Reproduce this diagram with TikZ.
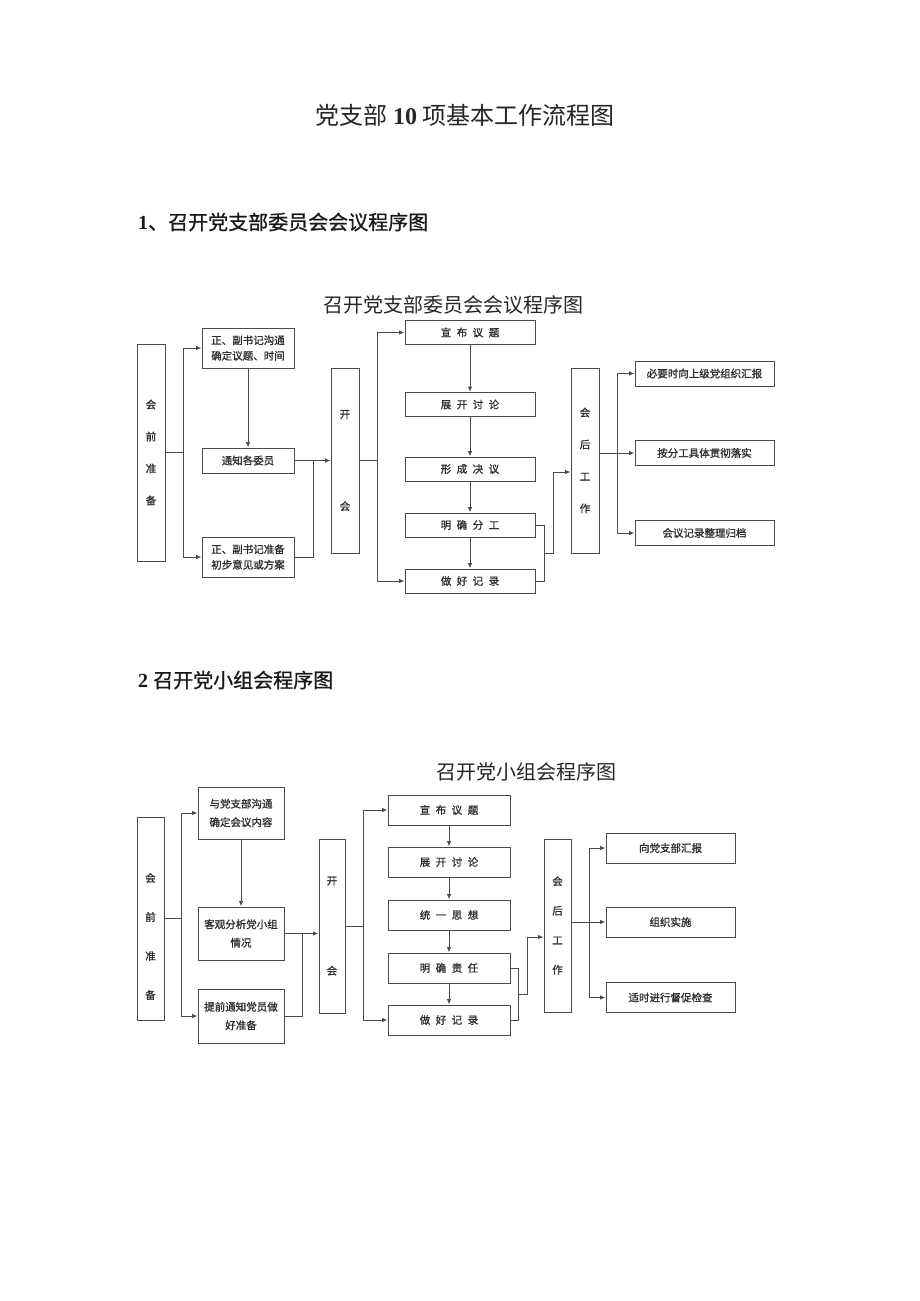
\documentclass[tikz,border=0pt]{standalone}
\usepackage{fontspec}
\setmainfont{Liberation Serif}
\newfontfamily\cjk{Noto Sans CJK SC}
\newfontfamily\cjkbox[FakeBold=1.2]{Noto Sans CJK SC}
\newfontfamily\cjkhead[FakeBold=0.8]{Noto Sans CJK SC}
\usetikzlibrary{arrows.meta}

\definecolor{boxline}{HTML}{4A4A4A}
\definecolor{boxtext}{HTML}{2E2E2E}
\newcommand{\chgap}{\hspace{5.5pt}}

\tikzset{
  box/.style={draw=boxline, line width=1pt, inner sep=0pt, text=boxtext,
    font=\cjkbox\fontsize{10.5}{12.5}\selectfont, align=center},
  link/.style={draw=boxline, line width=1pt},
  >={Latex[length=5.5pt,width=4.5pt]},
  heading/.style={anchor=west, inner sep=0pt, text=black!90,
    font=\fontsize{20}{24}\selectfont},
  charttitle/.style={inner sep=0pt, text=black!85, font=\cjk\fontsize{20}{24}\selectfont},
}

\begin{document}
\begin{tikzpicture}[x=1pt,y=-1pt]
\fill[white] (0,0) rectangle (920,1301);
\useasboundingbox (0,0) rectangle (920,1301);

% page headings
\node[inner sep=0pt, text=black!85, font=\cjk\fontsize{24}{28}\selectfont] (title) at (465,115)
  {党支部 {\rmfamily\bfseries 10} 项基本工作流程图};
\node[heading] (head1) at (138,222) {{\bfseries 1}\cjkhead 、召开党支部委员会会议程序图};
\node[heading] (head2) at (138,680) {{\bfseries 2} \cjkhead 召开党小组会程序图};

% chart 1
\node[charttitle] (t1) at (453,305) {召开党支部委员会会议程序图};

\node[box, minimum width=28, minimum height=217] (pre1) at (151,452.5)
  {会\\[19.5pt]前\\[19.5pt]准\\[19.5pt]备};
\node[box, minimum width=92, minimum height=40] (a1) at (248,348)
  {正、副书记沟通\\[3pt]确定议题、时间};
\node[box, minimum width=92, minimum height=25] (a2) at (248,460.5) {通知各委员};
\node[box, minimum width=92, minimum height=40] (a3) at (248,557)
  {正、副书记准备\\[3pt]初步意见或方案};
\node[box, minimum width=28, minimum height=185] (open1) at (345,460.5)
  {开\\[79.5pt]会};

\node[box, minimum width=130, minimum height=24] (b1) at (470,332.5) {宣\chgap 布\chgap 议\chgap 题};
\node[box, minimum width=130, minimum height=24] (b2) at (470,404.5) {展\chgap 开\chgap 讨\chgap 论};
\node[box, minimum width=130, minimum height=24] (b3) at (470,469) {形\chgap 成\chgap 决\chgap 议};
\node[box, minimum width=130, minimum height=24] (b4) at (470,525) {明\chgap 确\chgap 分\chgap 工};
\node[box, minimum width=130, minimum height=24] (b5) at (470,581) {做\chgap 好\chgap 记\chgap 录};

\node[box, minimum width=28, minimum height=185] (post1) at (585,460.5)
  {会\\[19.5pt]后\\[19.5pt]工\\[19.5pt]作};
\node[box, minimum width=139, minimum height=25] (c1) at (704.5,373.5) {必要时向上级党组织汇报};
\node[box, minimum width=139, minimum height=25] (c2) at (704.5,453) {按分工具体贯彻落实};
\node[box, minimum width=139, minimum height=25] (c3) at (704.5,533) {会议记录整理归档};

\draw[link,->] (pre1.east) -- ++(18,0) |- (a1.west);
\draw[link,->] (pre1.east) -- ++(18,0) |- (a3.west);
\draw[link,->] (a1.south) -- (a2.north);
\draw[link,->] (a2.east) -- (open1.west);
\coordinate (j1) at (313,460.5);
\draw[link] (a3.east) -| (j1);
\draw[link,->] (open1.east) -- ++(18,0) |- (b1.west);
\draw[link,->] (open1.east) -- ++(18,0) |- (b5.west);
\foreach \i/\j in {b1/b2,b2/b3,b3/b4,b4/b5}
  \draw[link,->] (\i.south) -- (\j.north);
\draw[link] (b4.east) -- ++(9,0) |- (b5.east);
\coordinate (m1) at (544,553);
\draw[link,->] (m1) -- ++(9,0) |- ([yshift=-11.5pt]post1.west);
\draw[link,->] (post1.east |- c2.west) -- (c2.west);
\draw[link,->] (post1.east |- c2.west) ++(18,0) |- (c1.west);
\draw[link,->] (post1.east |- c2.west) ++(18,0) |- (c3.west);

% chart 2
\node[charttitle] (t2) at (526,772) {召开党小组会程序图};

\node[box, minimum width=27, minimum height=203,
  label={[box, draw=none, yshift=-18pt]center:会\\[26.5pt]前\\[26.5pt]准\\[26.5pt]备}] (pre2) at (150.5,918.5) {};
\node[box, minimum width=86, minimum height=52] (d1) at (241,813)
  {与党支部沟通\\[6pt]确定会议内容};
\node[box, minimum width=86, minimum height=53] (d2) at (241,933.5)
  {客观分析党小组\\[6pt]情况};
\node[box, minimum width=86, minimum height=54] (d3) at (241,1016)
  {提前通知党员做\\[6pt]好准备};
\node[box, minimum width=26, minimum height=174] (open2) at (332,926)
  {开\\[77.5pt]会};

\node[box, minimum width=122, minimum height=30] (e1) at (449,810) {宣\chgap 布\chgap 议\chgap 题};
\node[box, minimum width=122, minimum height=30] (e2) at (449,862) {展\chgap 开\chgap 讨\chgap 论};
\node[box, minimum width=122, minimum height=30] (e3) at (449,915) {统\chgap 一\chgap 思\chgap 想};
\node[box, minimum width=122, minimum height=30] (e4) at (449,968) {明\chgap 确\chgap 责\chgap 任};
\node[box, minimum width=122, minimum height=30] (e5) at (449,1020) {做\chgap 好\chgap 记\chgap 录};

\node[box, minimum width=27, minimum height=173] (post2) at (557.5,925.5)
  {会\\[17pt]后\\[17pt]工\\[17pt]作};
\node[box, minimum width=129, minimum height=30] (f1) at (670.5,848) {向党支部汇报};
\node[box, minimum width=129, minimum height=30] (f2) at (670.5,922) {组织实施};
\node[box, minimum width=129, minimum height=30] (f3) at (670.5,997.5) {适时进行督促检查};

\draw[link,->] (pre2.east) -- ++(17,0) |- (d1.west);
\draw[link,->] (pre2.east) -- ++(17,0) |- (d3.west);
\draw[link,->] (d1.south) -- (d2.north);
\draw[link,->] (d2.east) -- (open2.west |- d2.east);
\coordinate (j2) at (302,933.5);
\draw[link] (d3.east) -| (j2);
\draw[link,->] (open2.east) -- ++(18,0) |- (e1.west);
\draw[link,->] (open2.east) -- ++(18,0) |- (e5.west);
\foreach \i/\j in {e1/e2,e2/e3,e3/e4,e4/e5}
  \draw[link,->] (\i.south) -- (\j.north);
\draw[link] (e4.east) -- ++(8,0) |- (e5.east);
\coordinate (m2) at (518,994);
\draw[link,->] (m2) -- ++(9,0) |- ([yshift=-11.5pt]post2.west);
\draw[link,->] (post2.east |- f2.west) -- (f2.west);
\draw[link,->] (post2.east |- f2.west) ++(18,0) |- (f1.west);
\draw[link,->] (post2.east |- f2.west) ++(18,0) |- (f3.west);

\end{tikzpicture}
\end{document}
